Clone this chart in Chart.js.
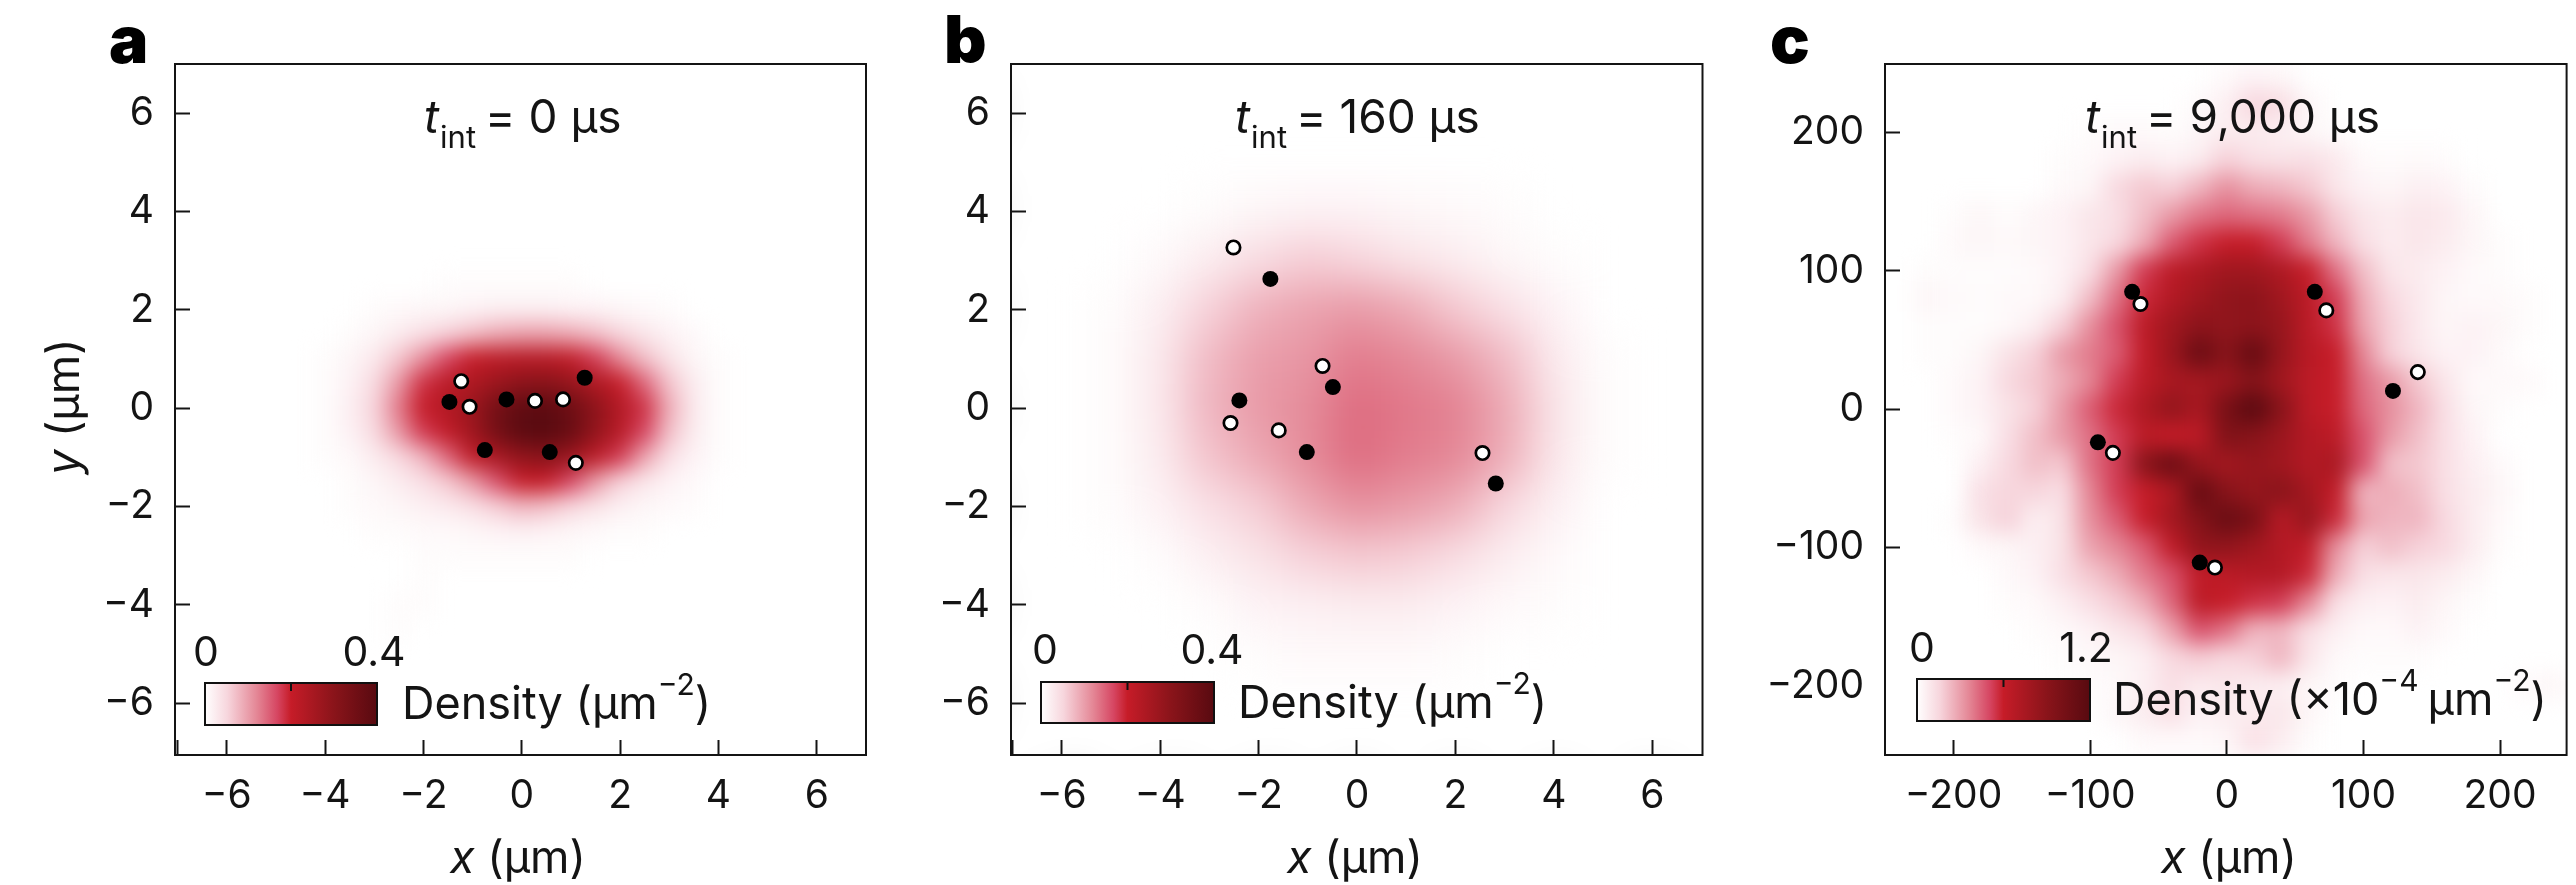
<!DOCTYPE html>
<html>
<head>
<meta charset="utf-8">
<style>
html,body{margin:0;padding:0;background:#fff;width:2576px;height:885px;overflow:hidden}
canvas{position:absolute;top:0}
</style>
<script src="https://cdn.jsdelivr.net/npm/chart.js@4/dist/chart.umd.min.js"></script>
</head>
<body>
<canvas id="a" width="905" height="885" style="left:0"></canvas>
<canvas id="b" width="830" height="885" style="left:905px"></canvas>
<canvas id="c" width="841" height="885" style="left:1735px"></canvas>
<script>
// ---------- data ----------
const ticksAB = [-6,-4,-2,0,2,4,6];
const ticksC = [-200,-100,0,100,200];

const blackA = [[-1.47,0.13],[-0.31,0.18],[1.28,0.62],[-0.75,-0.85],[0.57,-0.89]];
const whiteA = [[-1.23,0.55],[-1.06,0.03],[0.27,0.15],[0.84,0.18],[1.10,-1.11]];
const blackB = [[-1.76,2.63],[-0.49,0.43],[-2.39,0.16],[-1.02,-0.89],[2.82,-1.53]];
const whiteB = [[-2.51,3.27],[-0.70,0.86],[-2.57,-0.30],[-1.59,-0.45],[2.55,-0.91]];
const blackC = [[-69.3,84.8],[64.4,84.8],[121.6,13.2],[-94.4,-24],[-19.8,-110.9]];
const whiteC = [[-63.2,76],[72.8,71.4],[139.8,26.8],[-83.4,-31.6],[-8.7,-114.5]];

// density, in percent of the colour-bar range
const gridXA = [-4.5,-4,-3.5,-3,-2.5,-2,-1.5,-1,-0.5,0,0.5,1,1.5,2,2.5,3,3.5,4,4.5];
const gridYA = [2.5,2,1.5,1,0.5,0,-0.5,-1,-1.5,-2,-2.5,-3,-3.5,-4,-4.5];
const densityA = [
[0,0,0,0,0,0,1,1,1,1,1,1,0,0,0,0,0,0,0],
[0,0,0,1,2,3,3,4,5,5,5,4,4,3,2,1,0,0,0],
[0,0,1,3,6,10,14,18,22,24,24,22,18,13,8,4,2,0,0],
[0,1,3,7,16,28,42,50,54,56,56,52,44,30,18,9,3,1,0],
[0,1,4,11,26,46,55,60,68,74,76,70,60,50,36,17,6,1,0],
[0,1,5,13,32,50,58,68,86,96,98,90,74,58,46,22,7,1,0],
[0,1,4,11,26,44,52,66,86,98,100,92,72,56,42,18,6,1,0],
[0,1,2,6,12,20,36,52,62,72,76,68,54,44,24,10,4,1,0],
[0,0,1,3,6,10,16,26,40,50,50,42,26,14,8,4,2,0,0],
[0,0,1,2,3,5,7,10,15,20,18,13,9,5,3,2,1,0,0],
[0,0,0,1,1,2,2,3,4,5,4,3,2,1,1,0,0,0,0],
[0,0,0,0,0,1,1,1,1,1,1,1,0,0,0,0,0,0,0],
[0,0,0,0,0,1,0,0,0,0,0,0,0,0,0,0,0,0,0],
[0,0,0,0,1,1,0,0,0,0,0,0,0,0,0,0,0,0,0],
[0,0,0,0,1,0,0,0,0,0,0,0,0,0,0,0,0,0,0]
];
const gridXB = [-5,-4,-3,-2,-1,0,1,2,3,4,5];
const gridYB = [5,4,3,2,1,0,-1,-2,-3,-4,-5,-6];
const densityB = [
[0,0,0,0,0,0,0,0,0,0,0],
[0,0,1,3,4,4,3,2,1,0,0],
[0,2,6,11,15,13,9,6,3,1,0],
[1,5,14,21,24,26,23,16,10,4,0],
[1,7,19,25,27,32,30,26,19,7,1],
[1,7,20,26,29,35,33,31,23,9,1],
[1,6,17,23,29,35,32,30,22,8,1],
[1,4,10,15,23,28,26,22,13,5,0],
[0,1,5,9,14,16,15,11,6,2,0],
[0,0,1,4,5,6,6,4,2,1,0],
[0,0,0,1,2,2,2,1,0,0,0],
[0,0,0,0,0,0,0,0,0,0,0]
];
const gridXC = [-240,-220,-200,-180,-160,-140,-120,-100,-80,-60,-40,-20,0,20,40,60,80,100,120,140,160,180,200,220,240];
const gridYC = [240,220,200,180,160,140,120,100,80,60,40,20,0,-20,-40,-60,-80,-100,-120,-140,-160,-180,-200,-220,-240];
const densityC = [
[0,0,0,0,0,0,0,0,0,0,0,0,2,4,3,0,0,0,0,0,0,0,0,0,0],
[0,0,0,0,0,0,0,0,0,0,0,2,5,13,11,3,0,0,0,0,0,0,0,0,0],
[0,0,0,0,0,0,0,1,2,2,1,3,6,6,5,3,1,0,0,0,0,0,0,0,0],
[0,0,0,0,0,0,1,2,4,6,4,6,14,10,9,10,7,2,1,2,1,0,0,0,0],
[0,0,0,0,0,0,2,3,12,16,14,20,28,22,20,16,8,4,3,5,4,1,0,0,0],
[0,0,1,3,1,3,4,8,10,18,26,33,36,34,32,26,15,8,6,8,7,3,0,0,0],
[0,0,2,3,2,3,4,8,12,22,38,46,50,50,44,32,20,10,6,8,6,3,1,0,0],
[0,1,1,1,1,2,4,10,26,44,54,60,66,66,60,50,34,18,8,6,4,2,1,0,0],
[0,3,2,1,2,2,5,18,34,48,58,66,72,74,66,54,44,22,12,7,3,2,2,1,0],
[0,1,1,1,2,5,14,28,40,54,66,74,72,74,70,54,46,24,14,7,3,4,3,1,0],
[0,1,1,3,9,14,26,32,38,52,68,92,76,94,70,56,50,30,14,8,4,4,2,0,0],
[0,0,2,4,12,16,22,30,44,54,62,64,68,78,66,54,50,34,26,16,8,2,2,2,0],
[0,0,2,4,9,14,26,38,48,60,72,62,84,100,76,54,50,36,28,20,10,3,1,0,0],
[0,0,1,2,10,18,26,34,44,54,50,54,80,76,68,58,54,40,26,18,10,4,0,0,0],
[0,0,0,5,12,18,16,34,44,76,92,70,64,70,66,58,62,40,18,16,10,5,2,0,0],
[0,0,0,10,13,13,10,30,44,50,60,94,76,70,76,64,52,20,22,18,10,6,3,0,0],
[0,0,1,9,14,5,9,28,38,50,64,78,92,84,56,70,48,24,20,20,12,6,2,0,0],
[0,0,0,2,3,5,9,24,30,38,52,72,72,66,58,52,28,14,18,14,12,6,1,0,0],
[0,0,0,0,2,4,10,16,22,32,40,52,54,58,58,48,22,10,8,8,6,3,0,0,0],
[0,0,0,0,1,2,5,10,15,22,36,54,50,46,44,30,10,5,4,6,3,1,0,0,0],
[0,0,0,0,0,1,2,4,8,12,24,40,34,20,20,10,5,2,2,4,2,0,0,0,0],
[0,0,0,0,0,0,1,2,3,5,12,15,12,14,20,8,2,1,1,1,0,0,0,0,0],
[0,0,0,0,0,0,0,1,2,5,10,6,8,6,5,3,1,0,0,0,0,0,0,2,3],
[0,0,0,0,0,0,0,0,3,6,10,4,6,6,8,3,0,0,0,0,0,0,0,0,0],
[0,0,0,0,0,0,0,0,0,2,2,2,3,10,6,1,0,0,0,0,0,0,0,0,0]
];

// ---------- colour map ----------
const cmapStops = [[0,255,255,255],[.13,247,214,221],[.3,228,135,150],[.42,214,70,98],[.5,198,28,40],[.75,138,20,26],[1,88,10,16]];
function cmap(v){
  for(let i=1;i<cmapStops.length;i++){
    const p=cmapStops[i-1],q=cmapStops[i];
    if(v<=q[0]){const t=(v-p[0])/(q[0]-p[0]);
      return `rgb(${[1,2,3].map(k=>Math.round(p[k]+(q[k]-p[k])*t)).join(',')})`;}
  }
  return 'rgb(88,10,16)';
}

// ---------- shared helpers ----------
const FONT = 'Inter, "Open Sans", sans-serif';
const INK = '#141414';
const minus = s => String(s).replace('-', '\u2212');

function cells(gx,gy,rows){
  const out=[];
  rows.forEach((row,j)=>row.forEach((v,i)=>{ if(v>0) out.push({x:gx[i],y:gy[j],v:v/100}); }));
  return out;
}
const pts = arr => arr.map(p=>({x:p[0],y:p[1]}));

function rich(ctx,x,y,segs){
  ctx.textAlign='left'; ctx.textBaseline='alphabetic'; ctx.fillStyle=INK;
  for(const s of segs){
    ctx.font=`${s.i?'italic ':''}${s.w||400} ${s.s}px ${FONT}`;
    ctx.fillText(s.t,x,y+(s.dy||0));
    x+=ctx.measureText(s.t).width+(s.gap||0);
  }
  return x;
}

const panelPlugin = {
  id:'panel',
  afterDatasetDraw(chart,args){
    if(args.index!==0) return;
    const c=chart.config.options.panel, {ctx,chartArea:A}=chart;
    const off=document.createElement('canvas');
    off.width=ctx.canvas.width; off.height=ctx.canvas.height;
    off.getContext('2d').drawImage(ctx.canvas,0,0);
    ctx.save();
    ctx.clearRect(A.left,A.top,A.width,A.height);
    ctx.beginPath(); ctx.rect(A.left,A.top,A.width,A.height); ctx.clip();
    ctx.filter=`blur(${c.blur}px)`;
    ctx.drawImage(off,0,0);
    ctx.restore();
  },
  afterDraw(chart){
    const c=chart.config.options.panel, {ctx,chartArea:A}=chart, L=c.left;
    ctx.save();
    // frame
    ctx.strokeStyle=INK; ctx.lineWidth=2;
    ctx.strokeRect(A.left,A.top,A.width,A.height);
    // panel letter
    ctx.font=`900 66px ${FONT}`; ctx.fillStyle='#000'; ctx.textAlign='left'; ctx.textBaseline='alphabetic';
    ctx.fillText(c.letter,c.letterX-L,63);
    // time label
    rich(ctx,c.titleX-L,133,[
      {t:'t',i:1,s:46,gap:1},{t:'int',s:31,dy:15,gap:9},{t:c.title,s:46}]);
    // axis titles
    rich(ctx,c.xTitleX-L,873,[{t:'x',i:1,s:45},{t:' (\u00b5m)',s:45}]);
    if(c.yTitle){
      ctx.save(); ctx.translate(79,475); ctx.rotate(-Math.PI/2);
      rich(ctx,0,0,[{t:'y',i:1,s:45},{t:' (\u00b5m)',s:45}]);
      ctx.restore();
    }
    // colour bar
    const b=c.bar, g=ctx.createLinearGradient(b.x0-L,0,b.x1-L,0);
    cmapStops.forEach(s=>g.addColorStop(s[0],`rgb(${s[1]},${s[2]},${s[3]})`));
    ctx.fillStyle=g; ctx.fillRect(b.x0-L,b.y0,b.x1-b.x0,b.y1-b.y0);
    ctx.strokeStyle='#111'; ctx.lineWidth=2; ctx.strokeRect(b.x0-L,b.y0,b.x1-b.x0,b.y1-b.y0);
    ctx.beginPath(); ctx.moveTo((b.x0+b.x1)/2-L,b.y0); ctx.lineTo((b.x0+b.x1)/2-L,b.y0+8); ctx.stroke();
    ctx.font=`400 41px ${FONT}`; ctx.fillStyle=INK; ctx.textAlign='center';
    ctx.fillText('0',b.lab0-L,b.labY); ctx.fillText(c.barMax,b.lab1-L,b.labY);
    rich(ctx,b.textX-L,b.textY,c.barText);
    ctx.restore();
  }
};

function makeChart(id,c){
  const scaleBase = {
    type:'linear',
    border:{display:false},
    grid:{drawOnChartArea:false,drawTicks:true,tickLength:-15,tickWidth:2,tickColor:INK,z:1},
  };
  const tickFont={family:FONT,size:39,weight:'400'};
  new Chart(document.getElementById(id),{
    type:'scatter',
    plugins:[panelPlugin],
    data:{datasets:[
      {data:cells(c.gx,c.gy,c.density),order:3,pointStyle:'rect',borderWidth:0,
       pointBorderWidth:0,pointRadius:ctx=>{const s=ctx.chart.scales.x;
         return Math.abs(s.getPixelForValue(c.gx[1])-s.getPixelForValue(c.gx[0]))*Math.SQRT1_2+1;},
       pointBackgroundColor:ctx=>cmap(ctx.raw?ctx.raw.v:0)},
      {data:pts(c.black),order:2,pointRadius:8,pointBackgroundColor:'#000',pointBorderWidth:0},
      {data:pts(c.white),order:1,pointRadius:6.7,pointBackgroundColor:'#fff',pointBorderColor:'#000',pointBorderWidth:2.7}
    ]},
    options:{
      panel:c,
      responsive:false,animation:false,
      layout:{padding:{left:0,top:64,right:c.W-c.right,bottom:0}},
      plugins:{legend:{display:false},tooltip:{enabled:false}},
      scales:{
        x:{...scaleBase,min:c.xr[0],max:c.xr[1],
          afterBuildTicks:s=>{s.ticks=c.xTicks.map(v=>({value:v}));},
          afterFit:s=>{s.height=130;},
          ticks:{font:tickFont,color:INK,padding:33,autoSkip:false,maxRotation:0,
            callback:v=>c.xLabels.includes(v)?minus(v):''}},
        y:{...scaleBase,min:c.yr[0],max:c.yr[1],
          grid:{...scaleBase.grid,tickColor:ctx=>(ctx.tick&&c.yHide===ctx.tick.value)?'rgba(0,0,0,0)':INK},
          afterBuildTicks:s=>{s.ticks=c.yTicks.map(v=>({value:v}));},
          afterFit:s=>{s.width=c.plotLeft;},
          ticks:{font:tickFont,color:INK,padding:36,autoSkip:false,
            callback:v=>minus(v)}}
      }
    }
  });
}

const densityText = [{t:'Density (\u00b5m',s:45},{t:'\u22122',s:30,dy:-24},{t:')',s:45}];
const densityTextC = [{t:'Density (\u00d710',s:45},{t:'\u22124',s:30,dy:-24,gap:9},{t:'\u00b5m',s:45},{t:'\u22122',s:30,dy:-24},{t:')',s:45}];

makeChart('a',{W:905,left:0,plotLeft:175,right:866,xr:[-7.05,7],yr:[-7.05,7],
  xTicks:[-7,...ticksAB],xLabels:ticksAB,yTicks:ticksAB,
  gx:gridXA,gy:gridYA,density:densityA,black:blackA,white:whiteA,blur:10.5,
  letter:'a',letterX:109,titleX:424,title:'= 0 \u00b5s',xTitleX:450,yTitle:true,
  bar:{x0:205,x1:377,y0:683,y1:725,lab0:206,lab1:374,labY:666,textX:402,textY:719},
  barMax:'0.4',barText:densityText});
makeChart('b',{W:830,left:905,plotLeft:106,right:797.5,xr:[-7.03,7.02],yr:[-7.05,7],
  xTicks:[-7,...ticksAB],xLabels:ticksAB,yTicks:ticksAB,
  gx:gridXB,gy:gridYB,density:densityB,black:blackB,white:whiteB,blur:20,
  letter:'b',letterX:944,titleX:1235,title:'= 160 \u00b5s',xTitleX:1287,yTitle:false,
  bar:{x0:1041,x1:1214,y0:682,y1:723,lab0:1045,lab1:1212,labY:664,textX:1238,textY:718},
  barMax:'0.4',barText:densityText});
makeChart('c',{W:841,left:1735,plotLeft:150,right:840,xr:[-250.2,248.7],yr:[-250,249.5],
  xTicks:ticksC,xLabels:ticksC,yTicks:ticksC,yHide:-200,
  gx:gridXC,gy:gridYC,density:densityC,black:blackC,white:whiteC,blur:10.5,
  letter:'c',letterX:1770,titleX:2085,title:'= 9,000 \u00b5s',xTitleX:2161,yTitle:false,
  bar:{x0:1917,x1:2090,y0:679,y1:721,lab0:1922,lab1:2086,labY:662,textX:2113,textY:715},
  barMax:'1.2',barText:densityTextC});
</script>
</body>
</html>
